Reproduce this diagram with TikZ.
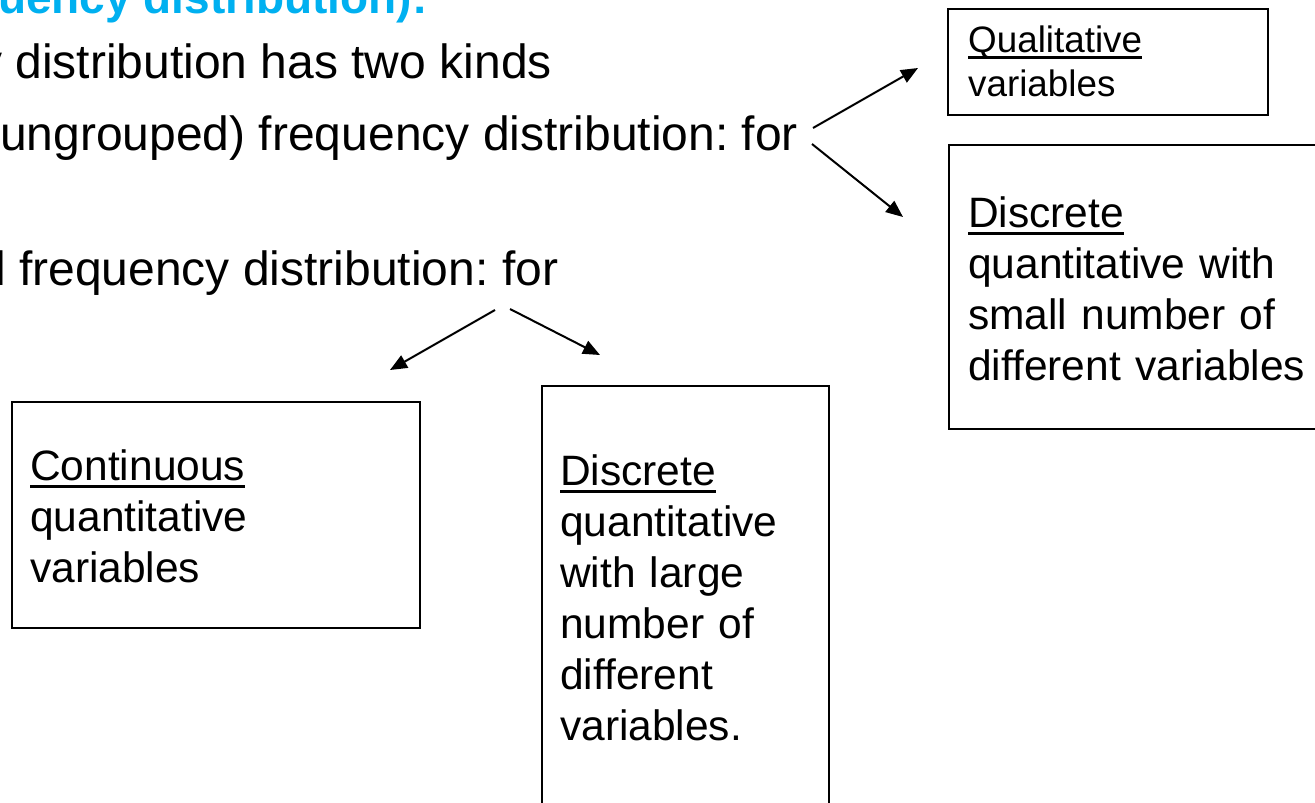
\documentclass[tikz,border=0pt]{standalone}
\usepackage{fontspec}
\setmainfont{Liberation Sans}
\usetikzlibrary{positioning, arrows.meta}
\definecolor{titleblue}{RGB}{0,176,240}
\newcommand{\uword}[1]{\setbox0\hbox{#1}\rlap{\rule[-0.19em]{\wd0}{0.075em}}\box0}
\frenchspacing
\tikzset{
  slidetext/.style={
    anchor=base west, inner sep=0pt, font=\fontsize{48}{58}\selectfont
  },
  slidetitle/.style={
    slidetext, text=titleblue, font=\fontsize{46}{55}\selectfont\bfseries
  },
  varbox/.style={
    draw=black, line width=1.8pt, anchor=north west, inner sep=0pt
  },
  boxtext/.style={
    anchor=base west, inner sep=0pt, align=left, text width=380pt,
    font=\fontsize{42.5}{51}\selectfont
  },
  smallboxtext/.style={
    boxtext, font=\fontsize{36.8}{44.5}\selectfont
  },
  arrow/.style={-{Triangle[length=17pt, width=14pt]}, line width=2pt}
}

\begin{document}
\begin{tikzpicture}[x=1pt, y=-1pt]
  \path[use as bounding box, fill=white] (0,0) rectangle (1315,803);
  \clip (0,0) rectangle (1315,803);

  % slide text, cut at the left edge
  \node[slidetitle] (title) at (-2,13) {uency distribution):};
  \node[slidetext] (kinds) at (-22,78) {y distribution has two kinds};
  \node[slidetext] (ungrouped) at (0,150) {ungrouped) frequency distribution: for};
  \node[slidetext] (grouped) at (-5,285) {l frequency distribution: for};

  % boxes
  \node[varbox, minimum width=320pt, minimum height=106pt] (qual) at (947,8) {};
  \node[smallboxtext] (qualtext) at ([shift={(21,44)}]qual.north west)
    {\uword{Qualitative}\\variables};
  \node[varbox, minimum width=400pt, minimum height=284pt] (small) at (948,144) {};
  \node[boxtext] (smalltext) at ([shift={(20,83)}]small.north west)
    {\uword{Discrete}\\quantitative with\\small number of\\different variables};
  \node[varbox, minimum width=408pt, minimum height=226pt] (cont) at (11,401) {};
  \node[boxtext] (conttext) at ([shift={(19,79)}]cont.north west)
    {\uword{Continuous}\\quantitative\\variables};
  \node[varbox, minimum width=287pt, minimum height=450pt] (large) at (541,385) {};
  \node[boxtext] (largetext) at ([shift={(19,100)}]large.north west)
    {\uword{Discrete}\\quantitative\\with large\\number of\\different\\variables.};

  % arrows
  \coordinate (ug-up) at (813,128);
  \coordinate (qual-in) at (918,68);
  \coordinate (ug-down) at (812,144);
  \coordinate (small-in) at (903,217);
  \coordinate (gr-left) at (495,310);
  \coordinate (cont-in) at (390,370);
  \coordinate (gr-right) at (510,309);
  \coordinate (large-in) at (600,355);

  \draw[arrow] (ug-up) -- (qual-in);
  \draw[arrow] (ug-down) -- (small-in);
  \draw[arrow] (gr-left) -- (cont-in);
  \draw[arrow] (gr-right) -- (large-in);
\end{tikzpicture}
\end{document}
